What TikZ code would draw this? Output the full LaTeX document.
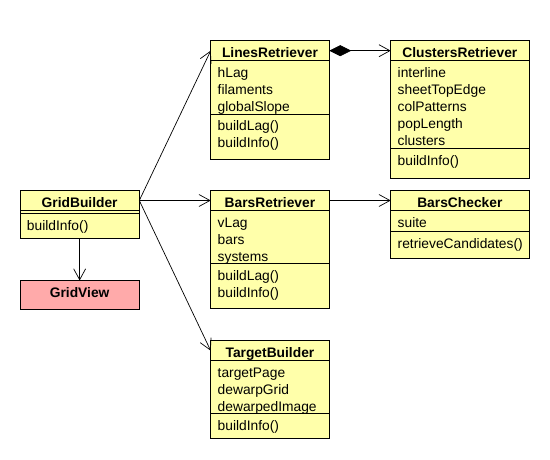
\documentclass[tikz,border=0pt]{standalone}
\usepackage{fontspec}
\setmainfont{Liberation Sans}
\usepackage{xcolor}
\usetikzlibrary{positioning,arrows.meta}

\definecolor{umlyellow}{HTML}{FFFFAA}
\definecolor{umlpink}{HTML}{FFAAAA}

\begin{document}
\begin{tikzpicture}[
  x=1pt, y=-1pt,
  every node/.style={font=\fontsize{13.8}{17}\selectfont, line width=0.75pt, outer sep=0pt},
  cls/.style={draw, fill=umlyellow, anchor=north west, inner sep=0pt,
              minimum height=20pt, font=\fontsize{13.8}{17}\selectfont\bfseries,
              text height=14pt, text depth=0pt},
  part/.style={draw, fill=umlyellow, align=left, inner xsep=7pt, inner ysep=0pt,
               text width=#1, text height=17pt},
  arr/.style={-{Straight Barb[length=11pt,width=12pt]}, line width=0.7pt},
  comp/.style={{Diamond[length=22pt,width=11pt]}-{Straight Barb[length=11pt,width=12pt]},
               line width=0.7pt}
]
  \useasboundingbox (0,0) rectangle (550,460);

  % GridBuilder node
  \node[cls, minimum width=119.3pt] (gridT) at (20,190.5) {GridBuilder};
  \node[part=105.3pt, text height=2.6pt, text depth=0pt, below=0pt of gridT] (gridA) {};
  \node[part=105.3pt, text depth=8.7pt, below=0pt of gridA] (gridM) {buildInfo()};

  % GridView node
  \node[cls, fill=umlpink, minimum width=119.3pt, minimum height=28.5pt,
        text height=5.6pt] (gridV) at (20,280.5) {GridView};

  % LinesRetriever node
  \node[cls, minimum width=118.5pt] (linesT) at (210.7,40.7) {LinesRetriever};
  \node[part=104.5pt, text depth=36.3pt, below=0pt of linesT] (linesA) {
    hLag\\
    filaments\\
    globalSlope
  };
  \node[part=104.5pt, text depth=28pt, below=0pt of linesA] (linesM) {
    buildLag()\\
    buildInfo()
  };

  % BarsRetriever node
  \node[cls, minimum width=118.5pt] (barsT) at (210.7,190.5) {BarsRetriever};
  \node[part=104.5pt, text depth=36.3pt, below=0pt of barsT] (barsA) {
    vLag\\
    bars\\
    systems
  };
  \node[part=104.5pt, text depth=28pt, below=0pt of barsA] (barsM) {
    buildLag()\\
    buildInfo()
  };

  % TargetBuilder node
  \node[cls, minimum width=118.5pt] (targetT) at (210.7,340.7) {TargetBuilder};
  \node[part=104.5pt, text depth=36pt, below=0pt of targetT] (targetA) {
    targetPage\\
    dewarpGrid\\
    dewarpedImage
  };
  \node[part=104.5pt, text depth=7.7pt, below=0pt of targetA] (targetM) {buildInfo()};

  % ClustersRetriever node
  \node[cls, minimum width=138.3pt] (clustersT) at (390.7,40.7) {ClustersRetriever};
  \node[part=124.3pt, text depth=70.3pt, below=0pt of clustersT] (clustersA) {
    interline\\
    sheetTopEdge\\
    colPatterns\\
    popLength\\
    clusters
  };
  \node[part=124.3pt, text depth=13.7pt, below=0pt of clustersA] (clustersM) {buildInfo()};

  % BarsChecker node
  \node[cls, minimum width=138.3pt] (checkerT) at (390.7,190.5) {BarsChecker};
  \node[part=124.3pt, text depth=4pt, below=0pt of checkerT] (checkerA) {suite};
  \node[part=124.3pt, text depth=10pt, below=0pt of checkerA] (checkerM) {retrieveCandidates()};

  \draw[arr] (gridM) -- (gridV);
  \draw[arr] (gridT.east) -- (linesT.west);
  \draw[arr] (gridT.east) -- (barsT.west);
  \draw[arr] (gridT.east) -- (targetT.west);
  \draw[comp] (linesT.east) -- (clustersT.west);
  \draw[arr] (barsT.east) -- (checkerT.west);
\end{tikzpicture}
\end{document}
